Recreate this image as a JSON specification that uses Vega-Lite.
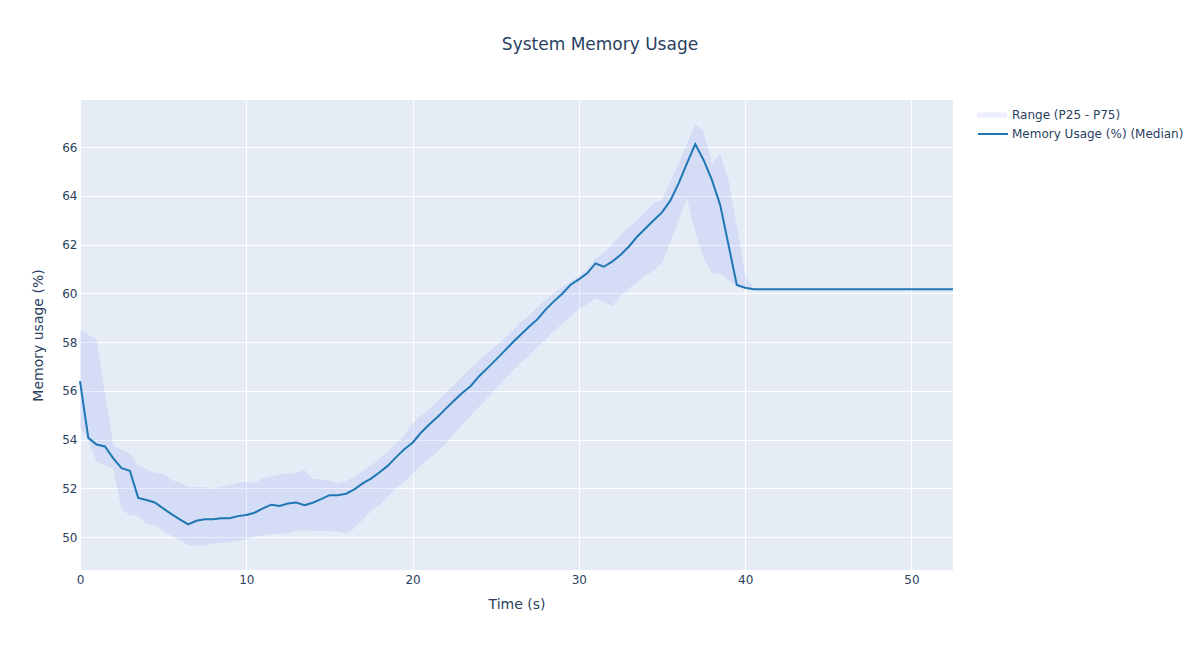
{
  "$schema": "https://vega.github.io/schema/vega-lite/v6.json",
  "width": 873,
  "height": 470,
  "autosize": {"type": "none"},
  "padding": {"left": 80, "top": 100, "right": 247, "bottom": 80},
  "background": "white",
  "title": {
    "text": "System Memory Usage",
    "anchor": "middle",
    "frame": "group",
    "dx": 83.5,
    "offset": 33,
    "baseline": "alphabetic",
    "font": "DejaVu Sans",
    "fontSize": 17,
    "fontWeight": "normal",
    "color": "#2a3f5f"
  },
  "config": {
    "view": {"fill": "#E5ECF6", "stroke": null},
    "font": "DejaVu Sans",
    "axis": {
      "domain": false,
      "ticks": false,
      "grid": true,
      "gridColor": "white",
      "gridWidth": 1,
      "labelFlush": false,
      "labelFont": "DejaVu Sans",
      "labelFontSize": 12,
      "labelColor": "#2a3f5f",
      "titleFont": "DejaVu Sans",
      "titleFontSize": 14,
      "titleFontWeight": "normal",
      "titleColor": "#2a3f5f"
    },
    "legend": {
      "labelFont": "DejaVu Sans",
      "labelFontSize": 12,
      "labelColor": "#2a3f5f",
      "labelLimit": 400,
      "padding": 0
    }
  },
  "data": {
    "values": [
      {"t": 0, "m": 56.40, "lo": 54.50, "hi": 58.50},
      {"t": 0.5, "m": 54.07, "lo": 53.98, "hi": 58.30},
      {"t": 1, "m": 53.80, "lo": 53.10, "hi": 58.10},
      {"t": 1.5, "m": 53.72, "lo": 52.95, "hi": 55.90},
      {"t": 2, "m": 53.23, "lo": 52.82, "hi": 53.77},
      {"t": 2.5, "m": 52.83, "lo": 51.14, "hi": 53.57},
      {"t": 3, "m": 52.72, "lo": 50.90, "hi": 53.43},
      {"t": 3.5, "m": 51.61, "lo": 50.87, "hi": 52.95},
      {"t": 4, "m": 51.52, "lo": 50.56, "hi": 52.78},
      {"t": 4.5, "m": 51.42, "lo": 50.49, "hi": 52.64},
      {"t": 5, "m": 51.18, "lo": 50.25, "hi": 52.61},
      {"t": 5.5, "m": 50.94, "lo": 50.04, "hi": 52.34},
      {"t": 6, "m": 50.73, "lo": 49.88, "hi": 52.24},
      {"t": 6.5, "m": 50.52, "lo": 49.67, "hi": 52.04},
      {"t": 7, "m": 50.67, "lo": 49.67, "hi": 52.05},
      {"t": 7.5, "m": 50.73, "lo": 49.63, "hi": 52.04},
      {"t": 8, "m": 50.73, "lo": 49.74, "hi": 52.00},
      {"t": 8.5, "m": 50.77, "lo": 49.78, "hi": 52.07},
      {"t": 9, "m": 50.77, "lo": 49.78, "hi": 52.13},
      {"t": 9.5, "m": 50.86, "lo": 49.85, "hi": 52.23},
      {"t": 10, "m": 50.91, "lo": 49.90, "hi": 52.27},
      {"t": 10.5, "m": 51.00, "lo": 50.01, "hi": 52.23},
      {"t": 11, "m": 51.18, "lo": 50.08, "hi": 52.41},
      {"t": 11.5, "m": 51.33, "lo": 50.13, "hi": 52.50},
      {"t": 12, "m": 51.28, "lo": 50.14, "hi": 52.57},
      {"t": 12.5, "m": 51.38, "lo": 50.16, "hi": 52.61},
      {"t": 13, "m": 51.42, "lo": 50.26, "hi": 52.62},
      {"t": 13.5, "m": 51.31, "lo": 50.29, "hi": 52.75},
      {"t": 14, "m": 51.41, "lo": 50.26, "hi": 52.38},
      {"t": 14.5, "m": 51.56, "lo": 50.26, "hi": 52.36},
      {"t": 15, "m": 51.72, "lo": 50.25, "hi": 52.31},
      {"t": 15.5, "m": 51.72, "lo": 50.22, "hi": 52.20},
      {"t": 16, "m": 51.78, "lo": 50.15, "hi": 52.30},
      {"t": 16.5, "m": 51.96, "lo": 50.36, "hi": 52.47},
      {"t": 17, "m": 52.20, "lo": 50.70, "hi": 52.71},
      {"t": 17.5, "m": 52.40, "lo": 51.07, "hi": 52.93},
      {"t": 18, "m": 52.65, "lo": 51.31, "hi": 53.20},
      {"t": 18.5, "m": 52.92, "lo": 51.65, "hi": 53.50},
      {"t": 19, "m": 53.27, "lo": 52.00, "hi": 53.84},
      {"t": 19.5, "m": 53.60, "lo": 52.27, "hi": 54.18},
      {"t": 20, "m": 53.87, "lo": 52.61, "hi": 54.66},
      {"t": 20.5, "m": 54.28, "lo": 52.95, "hi": 54.98},
      {"t": 21, "m": 54.62, "lo": 53.23, "hi": 55.24},
      {"t": 21.5, "m": 54.93, "lo": 53.50, "hi": 55.58},
      {"t": 22, "m": 55.27, "lo": 53.85, "hi": 55.92},
      {"t": 22.5, "m": 55.60, "lo": 54.25, "hi": 56.24},
      {"t": 23, "m": 55.92, "lo": 54.62, "hi": 56.60},
      {"t": 23.5, "m": 56.20, "lo": 55.00, "hi": 56.93},
      {"t": 24, "m": 56.60, "lo": 55.35, "hi": 57.25},
      {"t": 24.5, "m": 56.93, "lo": 55.72, "hi": 57.55},
      {"t": 25, "m": 57.27, "lo": 56.08, "hi": 57.85},
      {"t": 25.5, "m": 57.62, "lo": 56.45, "hi": 58.12},
      {"t": 26, "m": 57.97, "lo": 56.80, "hi": 58.45},
      {"t": 26.5, "m": 58.30, "lo": 57.15, "hi": 58.80},
      {"t": 27, "m": 58.63, "lo": 57.45, "hi": 59.10},
      {"t": 27.5, "m": 58.93, "lo": 57.80, "hi": 59.42},
      {"t": 28, "m": 59.33, "lo": 58.10, "hi": 59.75},
      {"t": 28.5, "m": 59.67, "lo": 58.45, "hi": 60.02},
      {"t": 29, "m": 59.98, "lo": 58.75, "hi": 60.25},
      {"t": 29.5, "m": 60.35, "lo": 59.05, "hi": 60.47},
      {"t": 30, "m": 60.57, "lo": 59.35, "hi": 60.70},
      {"t": 30.5, "m": 60.82, "lo": 59.55, "hi": 61.00},
      {"t": 31, "m": 61.23, "lo": 59.80, "hi": 61.45},
      {"t": 31.5, "m": 61.09, "lo": 59.65, "hi": 61.64},
      {"t": 32, "m": 61.30, "lo": 59.48, "hi": 62.00},
      {"t": 32.5, "m": 61.57, "lo": 59.90, "hi": 62.39},
      {"t": 33, "m": 61.91, "lo": 60.20, "hi": 62.70},
      {"t": 33.5, "m": 62.32, "lo": 60.45, "hi": 63.00},
      {"t": 34, "m": 62.66, "lo": 60.72, "hi": 63.35},
      {"t": 34.5, "m": 63.00, "lo": 60.95, "hi": 63.69},
      {"t": 35, "m": 63.32, "lo": 61.25, "hi": 63.83},
      {"t": 35.5, "m": 63.80, "lo": 62.10, "hi": 64.58},
      {"t": 36, "m": 64.51, "lo": 63.00, "hi": 65.33},
      {"t": 36.5, "m": 65.33, "lo": 63.90, "hi": 66.15},
      {"t": 37, "m": 66.12, "lo": 62.50, "hi": 66.94},
      {"t": 37.5, "m": 65.47, "lo": 61.45, "hi": 66.63},
      {"t": 38, "m": 64.65, "lo": 60.85, "hi": 65.33},
      {"t": 38.5, "m": 63.62, "lo": 60.80, "hi": 65.74},
      {"t": 39, "m": 61.98, "lo": 60.55, "hi": 64.65},
      {"t": 39.5, "m": 60.34, "lo": 60.30, "hi": 62.73},
      {"t": 40, "m": 60.23, "lo": 60.22, "hi": 60.75},
      {"t": 40.5, "m": 60.17, "lo": 60.17, "hi": 60.20},
      {"t": 41, "m": 60.17, "lo": 60.17, "hi": 60.17},
      {"t": 41.5, "m": 60.17, "lo": 60.17, "hi": 60.17},
      {"t": 42, "m": 60.17, "lo": 60.17, "hi": 60.17},
      {"t": 42.5, "m": 60.17, "lo": 60.17, "hi": 60.17},
      {"t": 43, "m": 60.17, "lo": 60.17, "hi": 60.17},
      {"t": 43.5, "m": 60.17, "lo": 60.17, "hi": 60.17},
      {"t": 44, "m": 60.17, "lo": 60.17, "hi": 60.17},
      {"t": 44.5, "m": 60.17, "lo": 60.17, "hi": 60.17},
      {"t": 45, "m": 60.17, "lo": 60.17, "hi": 60.17},
      {"t": 45.5, "m": 60.17, "lo": 60.17, "hi": 60.17},
      {"t": 46, "m": 60.17, "lo": 60.17, "hi": 60.17},
      {"t": 46.5, "m": 60.17, "lo": 60.17, "hi": 60.17},
      {"t": 47, "m": 60.17, "lo": 60.17, "hi": 60.17},
      {"t": 47.5, "m": 60.17, "lo": 60.17, "hi": 60.17},
      {"t": 48, "m": 60.17, "lo": 60.17, "hi": 60.17},
      {"t": 48.5, "m": 60.17, "lo": 60.17, "hi": 60.17},
      {"t": 49, "m": 60.17, "lo": 60.17, "hi": 60.17},
      {"t": 49.5, "m": 60.17, "lo": 60.17, "hi": 60.17},
      {"t": 50, "m": 60.17, "lo": 60.17, "hi": 60.17},
      {"t": 50.5, "m": 60.17, "lo": 60.17, "hi": 60.17},
      {"t": 51, "m": 60.17, "lo": 60.17, "hi": 60.17},
      {"t": 51.5, "m": 60.17, "lo": 60.17, "hi": 60.17},
      {"t": 52, "m": 60.17, "lo": 60.17, "hi": 60.17},
      {"t": 52.5, "m": 60.17, "lo": 60.17, "hi": 60.17}
    ]
  },
  "layer": [
    {
      "mark": {"type": "area", "strokeWidth": 0},
      "encoding": {
        "x": {
          "field": "t",
          "type": "quantitative",
          "scale": {"domain": [0, 52.5], "nice": false, "zero": false},
          "axis": {"values": [0, 10, 20, 30, 40, 50], "title": "Time (s)", "labelPadding": 4, "titlePadding": 12, "format": "d"}
        },
        "y": {
          "field": "lo",
          "type": "quantitative",
          "scale": {"domain": [48.65, 67.93], "nice": false, "zero": false},
          "axis": {"values": [50, 52, 54, 56, 58, 60, 62, 64, 66], "title": "Memory usage (%)", "labelPadding": 3, "titlePadding": 16, "format": "d"}
        },
        "y2": {"field": "hi"},
        "fill": {
          "datum": "Range (P25 - P75)",
          "scale": {"range": ["rgba(99,110,250,0.12)"]},
          "legend": {
            "title": null,
            "orient": "none",
            "legendX": 897,
            "legendY": 0,
            "symbolType": "M-1,-0.18H1V0.18H-1Z",
            "symbolSize": 900,
            "symbolStrokeWidth": 0,
            "symbolOpacity": 1,
            "labelOffset": 5
          }
        }
      }
    },
    {
      "mark": {"type": "line", "strokeWidth": 2},
      "encoding": {
        "x": {"field": "t", "type": "quantitative"},
        "y": {"field": "m", "type": "quantitative"},
        "stroke": {
          "datum": "Memory Usage (%) (Median)",
          "scale": {"range": ["#1f77b4"]},
          "legend": {
            "title": null,
            "orient": "none",
            "legendX": 897,
            "legendY": 18,
            "symbolType": "stroke",
            "symbolSize": 900,
            "symbolStrokeWidth": 2,
            "labelOffset": 3
          }
        }
      }
    }
  ]
}
